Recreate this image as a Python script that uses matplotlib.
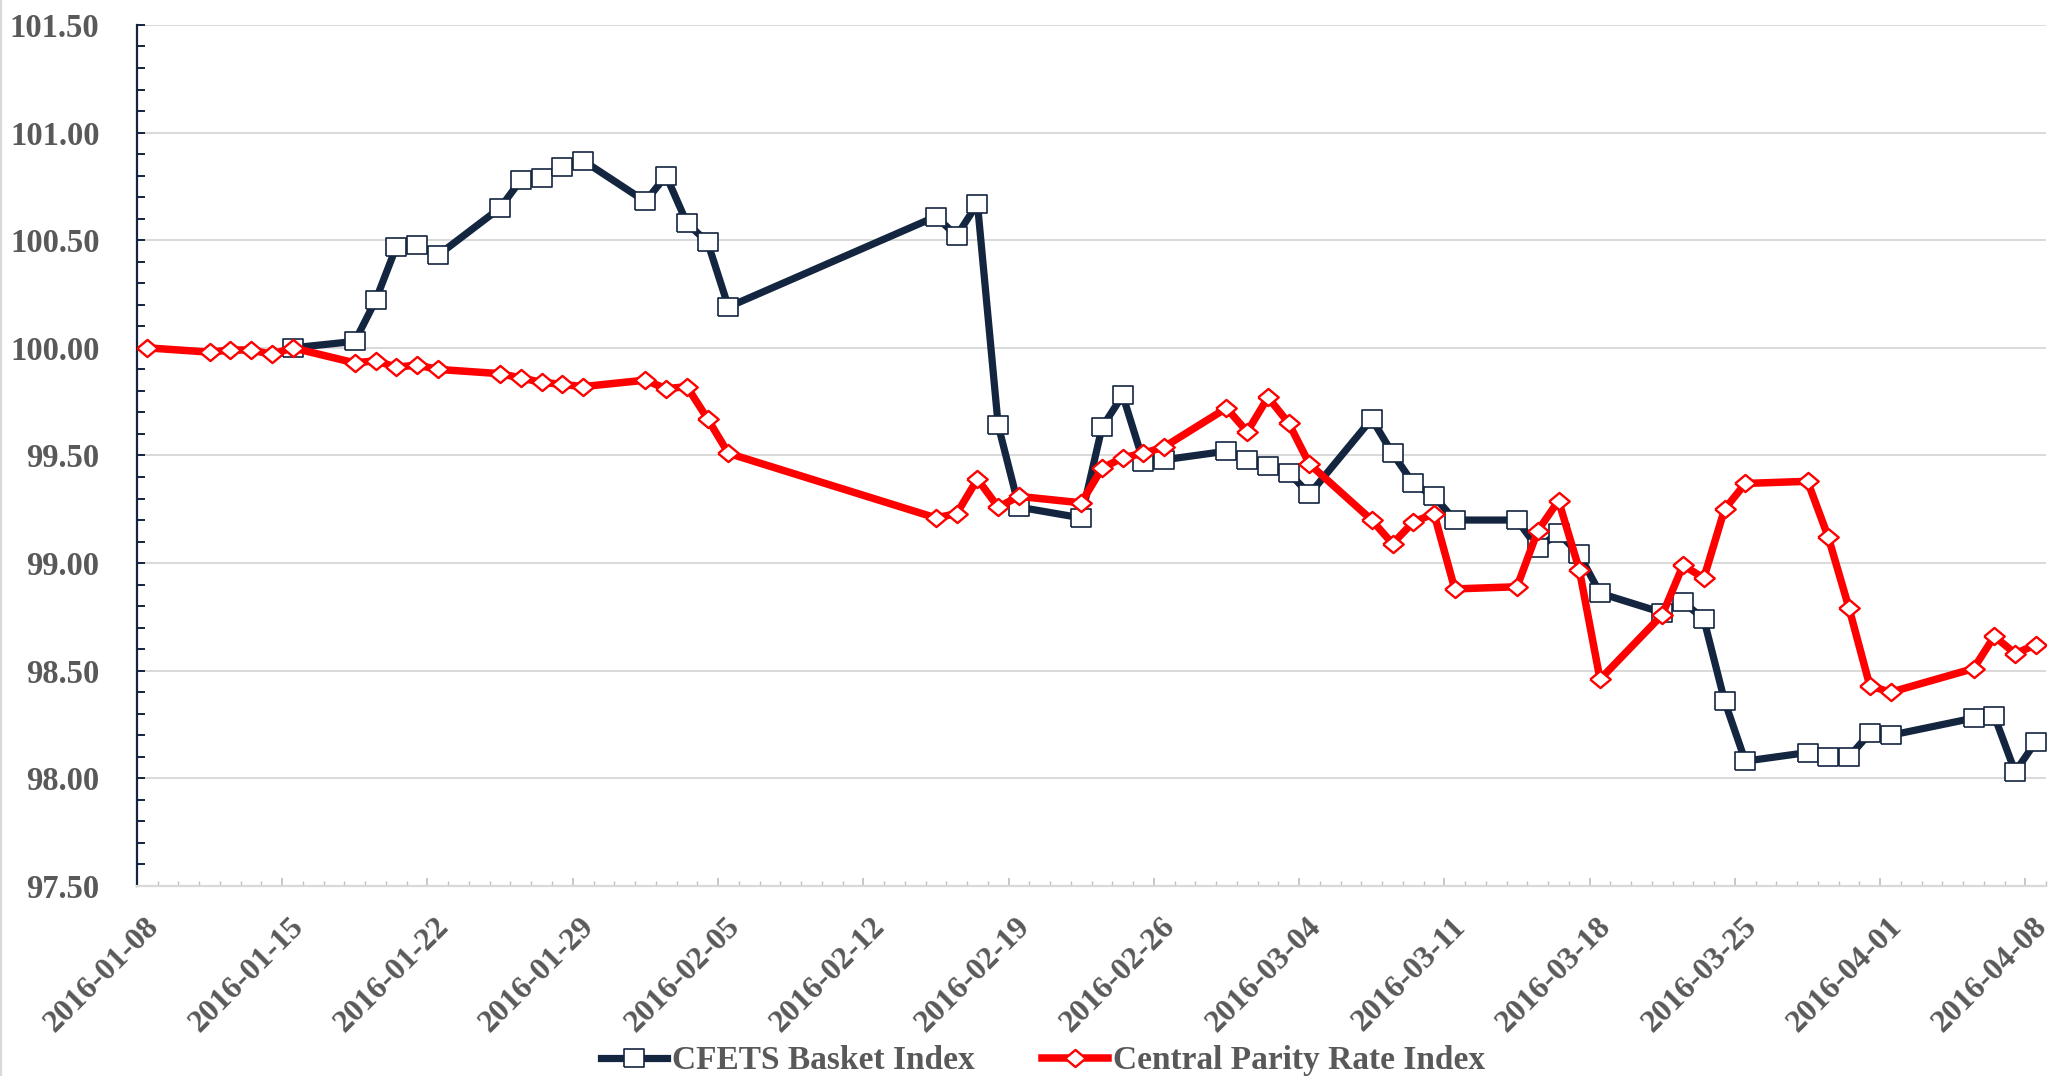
import numpy as np
import matplotlib
matplotlib.use("Agg")
import matplotlib.pyplot as plt
import matplotlib.dates as mdates
import matplotlib.transforms as mtransforms
from matplotlib.lines import Line2D

# trading days (CFETS starts on 01-15, the parity index a week earlier)
cfets_dates = ["2016-01-15",
               "2016-01-18", "2016-01-19", "2016-01-20", "2016-01-21", "2016-01-22",
               "2016-01-25", "2016-01-26", "2016-01-27", "2016-01-28", "2016-01-29",
               "2016-02-01", "2016-02-02", "2016-02-03", "2016-02-04", "2016-02-05",
               "2016-02-15", "2016-02-16", "2016-02-17", "2016-02-18", "2016-02-19",
               "2016-02-22", "2016-02-23", "2016-02-24", "2016-02-25", "2016-02-26",
               "2016-02-29", "2016-03-01", "2016-03-02", "2016-03-03", "2016-03-04",
               "2016-03-07", "2016-03-08", "2016-03-09", "2016-03-10", "2016-03-11",
               "2016-03-14", "2016-03-15", "2016-03-16", "2016-03-17", "2016-03-18",
               "2016-03-21", "2016-03-22", "2016-03-23", "2016-03-24", "2016-03-25",
               "2016-03-28", "2016-03-29", "2016-03-30", "2016-03-31", "2016-04-01",
               "2016-04-05", "2016-04-06", "2016-04-07", "2016-04-08"]
cfets_index = [100.00,
               100.03, 100.22, 100.47, 100.48, 100.43,
               100.65, 100.78, 100.79, 100.84, 100.87,
               100.68, 100.80, 100.58, 100.49, 100.19,
               100.61, 100.52, 100.67, 99.64, 99.26,
               99.21, 99.63, 99.78, 99.47, 99.48,
               99.52, 99.48, 99.45, 99.42, 99.32,
               99.67, 99.51, 99.37, 99.31, 99.20,
               99.20, 99.07, 99.14, 99.04, 98.86,
               98.77, 98.82, 98.74, 98.36, 98.08,
               98.12, 98.10, 98.10, 98.21, 98.20,
               98.28, 98.29, 98.03, 98.17]

parity_dates = ["2016-01-08", "2016-01-11", "2016-01-12", "2016-01-13", "2016-01-14"] + cfets_dates
parity_index = [100.00, 99.98, 99.99, 99.99, 99.97,
                100.00,
                99.93, 99.94, 99.91, 99.92, 99.90,
                99.88, 99.86, 99.84, 99.83, 99.82,
                99.85, 99.81, 99.82, 99.67, 99.51,
                99.21, 99.23, 99.39, 99.26, 99.31,
                99.28, 99.44, 99.49, 99.51, 99.54,
                99.72, 99.61, 99.77, 99.65, 99.46,
                99.20, 99.09, 99.19, 99.23, 98.88,
                98.89, 99.15, 99.29, 98.97, 98.46,
                98.76, 98.99, 98.93, 99.25, 99.37,
                99.38, 99.12, 98.79, 98.43, 98.40,
                98.51, 98.66, 98.58, 98.62]

series_names = ["CFETS Basket Index", "Central Parity Rate Index"]

navy = "#13253f"
red = "#ff0000"
grey_text = "#595959"
grid_grey = "#d9d9d9"

plt.rcParams["font.family"] = ["Liberation Serif", "DejaVu Serif"]
plt.rcParams["font.weight"] = "bold"

# slightly wide box / diamond, the original picture is stretched sideways
box = [(-0.6, -0.5), (0.6, -0.5), (0.6, 0.5), (-0.6, 0.5), (-0.6, -0.5)]
diamond = [(-0.6, 0.0), (0.0, 0.5), (0.6, 0.0), (0.0, -0.5), (-0.6, 0.0)]

fig = plt.figure(figsize=(20.53, 10.76), dpi=100)
ax = fig.add_axes([0.0667, 0.1766, 0.9300, 0.8002])

# Excel date axis: points sit in the middle of each day
half_day = np.timedelta64(12, "h")
x_cfets = np.array(cfets_dates, dtype="datetime64[D]") + half_day
x_parity = np.array(parity_dates, dtype="datetime64[D]") + half_day

ax.plot(x_cfets, cfets_index, color=navy, lw=5.2, marker=box, ms=14.8,
        mfc="white", mec=navy, mew=1.2, label=series_names[0], zorder=3)
ax.plot(x_parity, parity_index, color=red, lw=5.4, marker=diamond, ms=14.8,
        mfc="white", mec=red, mew=1.7, label=series_names[1], zorder=4)

ax.set_xlim(np.datetime64("2016-01-08"), np.datetime64("2016-04-09"))
ax.set_ylim(97.5, 101.5)

ax.yaxis.set_major_locator(plt.MultipleLocator(0.5))
ax.yaxis.set_minor_locator(plt.MultipleLocator(0.1))
ax.yaxis.set_major_formatter(plt.FormatStrFormatter("%.2f"))
ax.set_xticks(np.arange(np.datetime64("2016-01-08"), np.datetime64("2016-04-09"), 7))
ax.xaxis.set_minor_locator(mdates.DayLocator())
ax.xaxis.set_major_formatter(mdates.DateFormatter("%Y-%m-%d"))

ax.grid(axis="y", color=grid_grey, lw=1.4, zorder=0)
ax.set_axisbelow(True)

for side in ["top", "right"]:
    ax.spines[side].set_visible(False)
ax.spines["left"].set_color(navy)
ax.spines["left"].set_linewidth(1.6)
ax.spines["bottom"].set_color(grid_grey)
ax.spines["bottom"].set_linewidth(1.6)

ax.tick_params(axis="y", which="both", direction="in", length=5.5, width=1.4,
               color=navy, labelsize=23.5, labelcolor=grey_text, pad=27)
ax.tick_params(axis="x", which="major", direction="in", length=5.5, width=1.2,
               color="#bfbfbf", labelsize=23, labelcolor=grey_text, pad=19)
ax.tick_params(axis="x", which="minor", direction="in", length=3.5, width=1.0,
               color="#bfbfbf")

shift = mtransforms.ScaledTranslation(7 / 100, 0, fig.dpi_scale_trans)
for lab in ax.get_xticklabels():
    lab.set_rotation(45)
    lab.set_ha("right")
    lab.set_va("top")
    lab.set_rotation_mode("anchor")
    lab.set_fontweight("bold")
    lab.set_transform(lab.get_transform() + shift)
for lab in ax.get_yticklabels():
    lab.set_fontweight("bold")

leg = fig.legend(loc="center", bbox_to_anchor=(0.508, 0.014), ncol=2, frameon=False,
                 handlelength=2.0, handletextpad=0.15, columnspacing=2.0,
                 prop={"weight": "bold", "size": 24})
for t in leg.get_texts():
    t.set_color(grey_text)

# thin border line on the left edge of the picture
fig.add_artist(Line2D([0.0006, 0.0006], [0, 1], transform=fig.transFigure,
                      color=grid_grey, lw=1.6))

plt.savefig("out.png", dpi=100)
